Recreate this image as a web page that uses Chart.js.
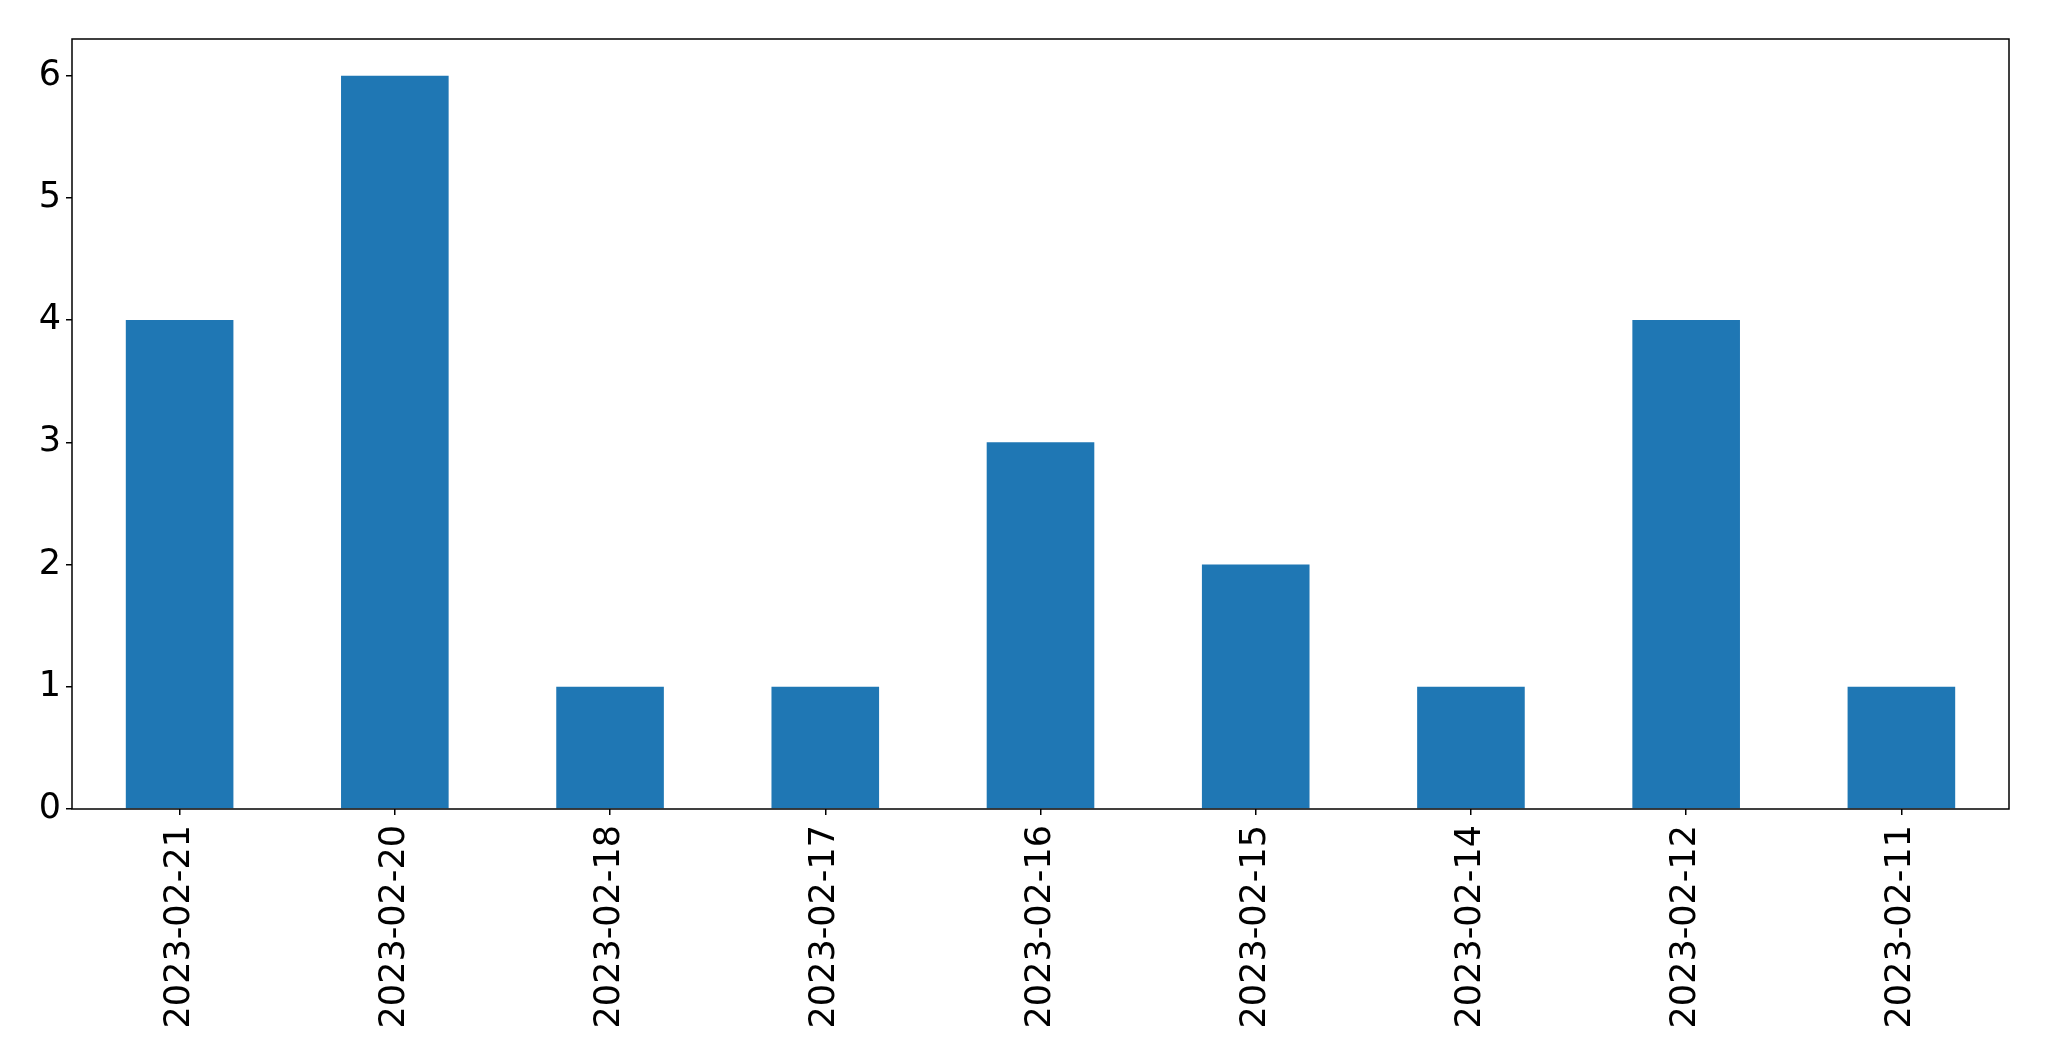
<!DOCTYPE html>
<html>
<head>
<meta charset="utf-8">
<script src="https://cdn.jsdelivr.net/npm/chart.js@4"></script>
<style>
  html, body { margin: 0; padding: 0; background: #fff; }
  #wrap { width: 2049px; height: 1061px; }
</style>
</head>
<body>
<div id="wrap"><canvas id="barChart" width="2049" height="1061"></canvas></div>
<script>
// values
const dates = ["2023-02-21", "2023-02-20", "2023-02-18", "2023-02-17", "2023-02-16",
               "2023-02-15", "2023-02-14", "2023-02-12", "2023-02-11"];
const counts = [4, 6, 1, 1, 3, 2, 1, 4, 1];
const yTicks = [0, 1, 2, 3, 4, 5, 6];
const yMin = 0;
const yMax = 6.3;

const FONT = { family: "'DejaVu Sans', sans-serif", size: 35 };

// full box round the plot area, like matplotlib's spines
const boxPlugin = {
  id: 'box',
  afterDraw(chart) {
    const { ctx, chartArea: a } = chart;
    ctx.save();
    ctx.strokeStyle = '#000';
    ctx.lineWidth = 1.5;
    ctx.strokeRect(a.left, a.top, a.right - a.left, a.bottom - a.top);
    ctx.restore();
  }
};

new Chart(document.getElementById('barChart'), {
  type: 'bar',
  data: {
    labels: dates,
    datasets: [{
      data: counts,
      backgroundColor: '#1f77b4',
      borderWidth: 0,
      categoryPercentage: 1.0,
      barPercentage: 0.5
    }]
  },
  options: {
    responsive: false,
    animation: false,
    devicePixelRatio: 1,
    layout: { padding: { top: 39, right: 40, bottom: 0, left: 0 } },
    plugins: { legend: { display: false }, tooltip: { enabled: false } },
    scales: {
      x: {
        grid: { display: true, drawOnChartArea: false, offset: false, drawTicks: true, tickLength: 6, color: '#000', lineWidth: 1.5 },
        border: { display: false },
        ticks: { color: '#000', font: FONT, maxRotation: 90, minRotation: 90, padding: 10, autoSkip: false },
        afterFit(scale) { scale.height = 252; }
      },
      y: {
        min: yMin,
        max: yMax,
        grid: { display: true, drawOnChartArea: false, drawTicks: true, tickLength: 6, color: '#000', lineWidth: 1.5 },
        border: { display: false },
        ticks: { color: '#000', font: FONT, padding: 5 },
        afterBuildTicks(scale) { scale.ticks = yTicks.map(v => ({ value: v })); },
        afterFit(scale) { scale.width = 72; }
      }
    }
  },
  plugins: [boxPlugin]
});
</script>
</body>
</html>
